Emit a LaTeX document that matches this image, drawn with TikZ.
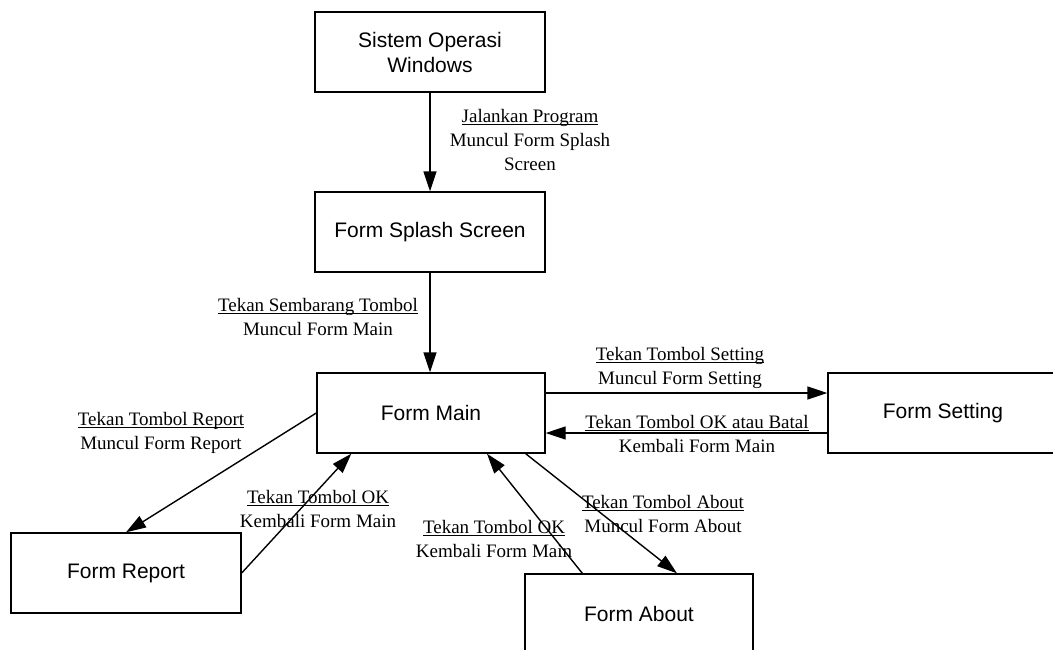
\documentclass[tikz,border=0pt]{standalone}
\usepackage{fontspec}
\setmainfont{Liberation Serif}
\newfontfamily\boxfont{Liberation Sans}
\usetikzlibrary{arrows.meta}
\newcommand\ulbl[1]{\setbox0\hbox{#1}\rlap{\rule[-2.5pt]{\wd0}{0.9pt}}\box0}

\begin{document}
\begin{tikzpicture}[x=1pt, y=-1pt,
    form/.style={draw, line width=1.4pt, minimum width=230pt, minimum height=80pt,
        align=center, font=\boxfont\fontsize{21}{25}\selectfont},
    lbl/.style={align=center, inner sep=0pt, font=\fontsize{19}{24}\selectfont},
    arr/.style={line width=1.4pt, -{Triangle[length=20pt, width=13pt]}}]
    \useasboundingbox (0,0) rectangle (1053,649);

    % forms
    \node[form] (sistem) at (430, 52) {Sistem Operasi\\Windows};
    \node[form] (splash) at (430, 232) {Form Splash Screen};
    \node[form, minimum width=228pt] (main) at (431, 413) {Form Main};
    \node[form] (setting) at (943, 413) {Form Setting};
    \node[form] (report) at (126, 573) {Form Report};
    \node[form, minimum width=228pt] (about) at (639, 614) {Form About};

    % flows
    \draw[arr] (sistem.south) -- (splash.north);
    \draw[arr] (splash.south) -- (main.north -| splash.south);
    \draw[arr] ([yshift=20pt]main.east) -- ([yshift=20pt]setting.west);
    \draw[arr] ([yshift=-20pt]setting.west) -- ([yshift=-20pt]main.east);
    \draw[arr] (main.west) -- (report.north);
    \draw[arr] (report.east) -- ([xshift=35pt]main.south west);
    \draw[arr] ([xshift=58pt]about.north west) -- ([xshift=56pt]main.south);
    \draw[arr] ([xshift=-20pt]main.south east) -- ([xshift=38pt]about.north);

    % labels
    \node[lbl] (jalan) at (530, 140) {\ulbl{Jalankan Program}\\Muncul Form Splash\\Screen};
    \node[lbl] (sembarang) at (318, 317) {\ulbl{Tekan Sembarang Tombol}\\Muncul Form Main};
    \node[lbl] (tsetting) at (680, 368) {\ulbl{Tekan Tombol Setting}\\Muncul Form Setting};
    \node[lbl] (tbatal) at (697, 434) {\ulbl{Tekan Tombol OK atau Batal}\\Kembali Form Main};
    \node[lbl] (treport) at (161, 433) {\ulbl{Tekan Tombol Report}\\Muncul Form Report};
    \node[lbl] (okreport) at (318, 509) {\ulbl{Tekan Tombol OK}\\Kembali Form Main};
    \node[lbl] (okabout) at (494, 539) {\ulbl{Tekan Tombol OK}\\Kembali Form Main};
    \node[lbl] (tabout) at (663, 514) {\ulbl{Tekan Tombol About}\\Muncul Form About};
\end{tikzpicture}
\end{document}
